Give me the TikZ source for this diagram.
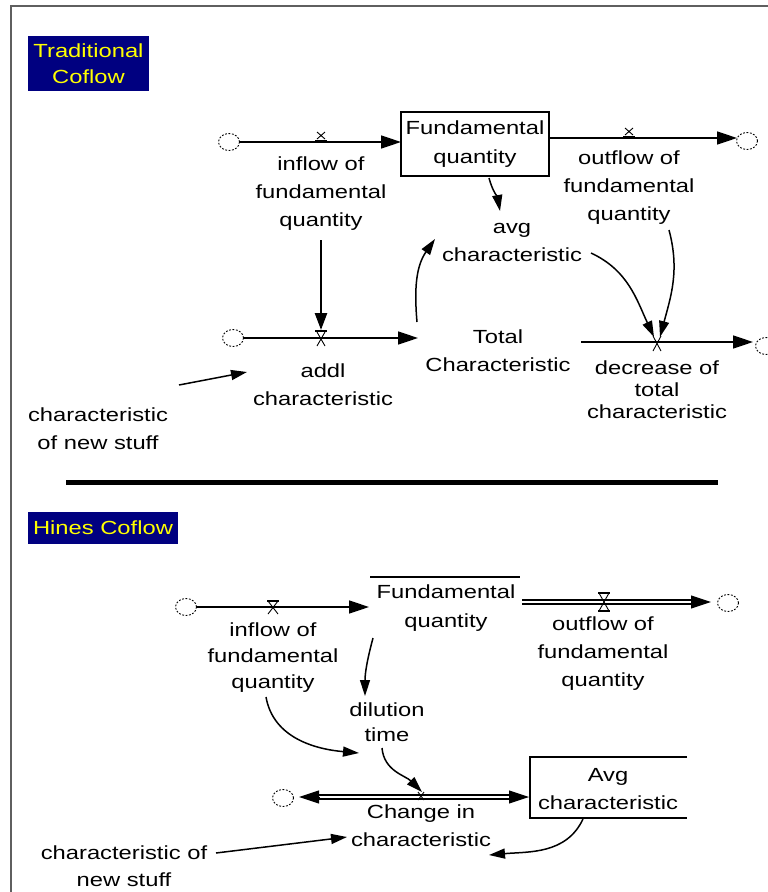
\documentclass[tikz,border=0pt]{standalone}
\usepackage{fontspec}
\setmainfont{Liberation Sans}[FakeStretch=1.25]
\usetikzlibrary{arrows.meta,shapes.geometric}
\definecolor{titlebg}{RGB}{0,0,128}
\definecolor{titlefg}{RGB}{255,255,0}
\definecolor{framegray}{RGB}{95,95,95}
\begin{document}
\begin{tikzpicture}[x=1pt,y=-1pt,
  every node/.style={font=\fontsize{19}{28}\selectfont, inner sep=0pt, align=center},
  stockbox/.style={draw, line width=1.3pt, minimum width=148pt, minimum height=64pt},
  cloudc/.style={draw, ellipse, dash pattern=on 1.8pt off 1.6pt, line width=0.9pt, minimum width=21pt, minimum height=17pt},
  pipe/.style={line width=1.7pt},
  dpipe/.style={line width=1.3pt, double, double distance=2.6pt},
  flowtip/.style={-{Triangle[length=20pt,width=13pt]}},
  tiponly/.style={line width=1pt, -{Triangle[length=20pt,width=13pt]}},
  info/.style={line width=1.5pt, -{Triangle[length=16pt,width=10pt]}},
  thickinfo/.style={line width=2.5pt, -{Triangle[length=17pt,width=12pt]}},
  valve/.style={line width=0.9pt},
  titlebox/.style={fill=titlebg, text=titlefg},
]
\useasboundingbox (0,0) rectangle (768,892);
% frame
\draw[framegray, line width=1.5pt] (11,892) -- (11,6) -- (768,6);

%%%%%%%%%%%%%%%% TOP: Traditional Coflow
\node[titlebox, minimum width=121pt, minimum height=55pt, font=\fontsize{19}{26}\selectfont] (t1) at (88.5,63.5) {Traditional\\Coflow};

\node[cloudc] (cA) at (229,142) {};
\node[stockbox, font=\fontsize{19}{29}\selectfont] (fq1) at (475,144) {Fundamental\\quantity};
\node[cloudc] (cB) at (747,141) {};
\coordinate (vIn1) at (321,142);
\coordinate (vOut1) at (629,138);
\coordinate (in1e) at (401,142);
\coordinate (out1s) at (549,138);
\coordinate (out1e) at (737,138);
\node (lIn1) at (321,194) {inflow of\\fundamental\\quantity};
\node (lOut1) at (629,188) {outflow of\\fundamental\\quantity};
\node (avg1) at (512,242.5) {avg\\characteristic};

\node[cloudc] (cC) at (233,338) {};
\coordinate (vAdd) at (321,338);
\coordinate (adde) at (418,338);
\node (lAdd) at (323,385) {addl\\characteristic};
\node (tot) at (498,351) {Total\\Characteristic};
\coordinate (decs) at (581,342);
\coordinate (dece) at (753,342);
\node[cloudc] (cD) at (766,346) {};
\coordinate (vDec) at (657,342);
\node[font=\fontsize{19}{22}\selectfont] (lDec) at (657,390) {decrease of\\total\\characteristic};
\node (new1) at (98,429) {characteristic\\of new stuff};

% pipes top
\draw[pipe, flowtip] (cA.east) -- (in1e);
\draw[pipe, flowtip] (out1s) -- (out1e);
\draw[pipe, flowtip] (cC.east) -- (adde);
\draw[pipe, flowtip] (decs) -- (dece);

% valves top
\draw[valve] ([shift={(-4,-10)}]vIn1) -- ([shift={(4,-3)}]vIn1) ([shift={(4,-10)}]vIn1) -- ([shift={(-4,-3)}]vIn1);
\draw[line width=1.4pt] ([shift={(-6,-1.5)}]vIn1) -- ([shift={(6,-1.5)}]vIn1);
\draw[valve] ([shift={(-4,-10)}]vOut1) -- ([shift={(4,-3)}]vOut1) ([shift={(4,-10)}]vOut1) -- ([shift={(-4,-3)}]vOut1);
\draw[line width=1.4pt] ([shift={(-6,-1.5)}]vOut1) -- ([shift={(6,-1.5)}]vOut1);
\draw[line width=1.4pt] ([shift={(-6,-7)}]vAdd) -- ([shift={(6,-7)}]vAdd);
\draw[valve] ([shift={(-4,-6)}]vAdd) -- ([shift={(4,8)}]vAdd) ([shift={(4,-6)}]vAdd) -- ([shift={(-4,8)}]vAdd);
\draw[valve] ([shift={(-4,-6)}]vDec) -- ([shift={(4,9)}]vDec) ([shift={(4,-6)}]vDec) -- ([shift={(-4,9)}]vDec);

% info links top
\coordinate (a1s) at (489,178);
\coordinate (a1e) at (500,211);
\coordinate (a2s) at (321,240);
\coordinate (a2e) at (321,330);
\coordinate (a3s) at (417,322);
\coordinate (a3e) at (435,239);
\coordinate (a4s) at (591,253);
\coordinate (a4e) at (654,337);
\coordinate (a5s) at (669,230);
\coordinate (a5e) at (660,337);
\coordinate (a6s) at (179,385);
\coordinate (a6e) at (247,372);
\draw[info] (a1s) to[out=-75,in=100] (a1e);
\draw[thickinfo] (a2s) -- (a2e);
\draw[info] (a3s) to[out=95,in=235] (a3e);
\draw[info] (a4s) to[out=-25,in=115] (a4e);
\draw[info] (a5s) to[out=-75,in=75] (a5e);
\draw[info] (a6s) -- (a6e);

% separator
\coordinate (sep1) at (66,482);
\coordinate (sep2) at (718,482);
\draw[line width=5pt] (sep1) -- (sep2);

%%%%%%%%%%%%%%%% BOTTOM: Hines Coflow
\node[titlebox, minimum width=150pt, minimum height=32pt] (t2) at (103,528) {Hines Coflow};

\node[cloudc] (cE) at (186,607) {};
\coordinate (in2e) at (369,607);
\coordinate (vIn2) at (273,607);
\coordinate (fqbarL) at (370,577);
\coordinate (fqbarR) at (520,577);
\node[font=\fontsize{19}{29}\selectfont] (fq2) at (446,608) {Fundamental\\quantity};
\coordinate (out2s) at (522,602);
\coordinate (out2m) at (691,602);
\coordinate (out2e) at (711,602);
\node[cloudc] (cF) at (728,603) {};
\coordinate (vOut2) at (604,602);
\node (lOut2) at (603,654) {outflow of\\fundamental\\quantity};
\node[font=\fontsize{19}{26}\selectfont] (lIn2) at (273,658) {inflow of\\fundamental\\quantity};
\node[font=\fontsize{19}{25}\selectfont] (dil) at (387,722) {dilution\\time};

\draw[line width=1.3pt] (fqbarL) -- (fqbarR);
\draw[pipe, flowtip] (cE.east) -- (in2e);
\draw[dpipe] (out2s) -- (out2m);
\draw[tiponly] (out2m) -- (out2e);

% valves bottom
\draw[line width=1.2pt] ([shift={(-6,-6)}]vIn2) -- ([shift={(6,-6)}]vIn2);
\draw[valve] ([shift={(-5,-6)}]vIn2) -- ([shift={(5,7)}]vIn2) ([shift={(5,-6)}]vIn2) -- ([shift={(-5,7)}]vIn2);
\draw[line width=1.2pt] ([shift={(-6,-9)}]vOut2) -- ([shift={(6,-9)}]vOut2) ([shift={(-6,9)}]vOut2) -- ([shift={(6,9)}]vOut2);
\draw[valve] ([shift={(-5,-9)}]vOut2) -- ([shift={(5,9)}]vOut2) ([shift={(5,-9)}]vOut2) -- ([shift={(-5,9)}]vOut2);

% change pipe
\node[cloudc] (cG) at (283,798) {};
\coordinate (chL) at (299,797);
\coordinate (chLm) at (319,797);
\coordinate (chRm) at (509,797);
\coordinate (chR) at (529,797);
\coordinate (vCh) at (421,797);
\draw[dpipe] (chLm) -- (chRm);
\draw[tiponly] (chLm) -- (chL);
\draw[tiponly] (chRm) -- (chR);
\draw[valve] ([shift={(-3,-5)}]vCh) -- ([shift={(3,3)}]vCh) ([shift={(3,-5)}]vCh) -- ([shift={(-3,3)}]vCh);
\node (lCh) at (421,826) {Change in\\characteristic};

% avg characteristic (open right side)
\coordinate (avTR) at (687,757);
\coordinate (avTL) at (530,757);
\coordinate (avBL) at (530,818);
\coordinate (avBR) at (687,818);
\draw[line width=1.3pt] (avTR) -- (avTL) -- (avBL) -- (avBR);
\node (avg2) at (608,789) {Avg\\characteristic};

\node[font=\fontsize{19}{27}\selectfont] (new2) at (124,866.5) {characteristic of\\new stuff};

% info links bottom
\coordinate (d1s) at (373,638);
\coordinate (d1e) at (365,696);
\coordinate (d2s) at (266,697);
\coordinate (d2e) at (359,753);
\coordinate (d3s) at (382,748);
\coordinate (d3e) at (422,792);
\coordinate (d4s) at (583,819);
\coordinate (d4e) at (489,855);
\coordinate (d5s) at (216,853);
\coordinate (d5e) at (347,837);
\draw[info] (d1s) to[out=-105,in=90] (d1e);
\draw[info] (d2s) to[out=-80,in=175] (d2e);
\draw[info] (d3s) to[out=-85,in=135] (d3e);
\draw[info] (d4s) to[out=-115,in=5] (d4e);
\draw[info] (d5s) -- (d5e);
\end{tikzpicture}
\end{document}
